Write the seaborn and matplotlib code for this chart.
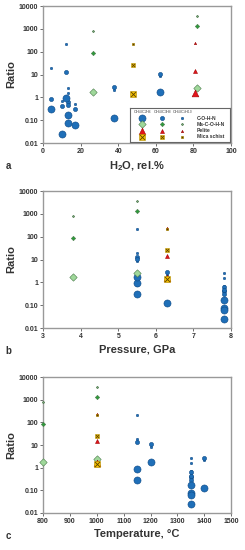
import numpy as np
import pandas as pd
import matplotlib
matplotlib.use("Agg")
import matplotlib.pyplot as plt
import seaborn as sns
from matplotlib.ticker import FixedLocator, FixedFormatter

sns.set_style("white")
plt.rcParams['font.family'] = ['Liberation Sans', 'DejaVu Sans']
plt.rcParams['mathtext.fontset'] = 'custom'
plt.rcParams['mathtext.rm'] = 'Liberation Sans'
plt.rcParams['mathtext.bf'] = 'Liberation Sans:bold'

# experiments: group, H2O rel.%, pressure GPa, temperature C
exp_group = ['C-O-H-N'] * 8 + ['Ms-C-O-H-N'] * 2 + ['Pelite', 'Mica schist']
exp_h2o = [4, 12, 62, 37.5, 10, 13, 13, 17, 26.5, 82, 81, 48]
exp_p = [5.5, 5.5, 5.5, 6.3, 7.8, 7.8, 7.8, 7.8, 3.8, 5.5, 6.3, 6.3]
exp_t = [1150, 1150, 1200, 1400, 1350, 1350, 1350, 1350, 800, 1000, 1000, 1000]
# ratios CH4/C2H6, CH4/C3H8, CH4/C4H10
r_c2h6 = [0.3, 0.9, 1.8, 0.13, 0.025, 0.17, 0.075, 0.06, 1.8, 2.5, 1.6, 1.4]
r_c3h8 = [0.85, 13, 11, 2.8, 0.4, 0.65, 0.45, 0.3, 85, 1300, 15, 25]
r_c4h10 = [19, 220, 8.5, 2.2, 0.7, 2.6, 1.6, 0.5, 800, 3500, 240, 210]

ratio_names = ['CH4/C2H6', 'CH4/C3H8', 'CH4/C4H10']
rows = []
for i in range(len(exp_group)):
    for name, vals in zip(ratio_names, [r_c2h6, r_c3h8, r_c4h10]):
        rows.append(dict(group=exp_group[i], h2o=exp_h2o[i], p=exp_p[i],
                         t=exp_t[i], ratio=name, value=vals[i]))
df = pd.DataFrame(rows)

sizes = {'CH4/C2H6': 26, 'CH4/C3H8': 9, 'CH4/C4H10': 3}
styles = {
    'C-O-H-N': dict(marker='o', colors=['#1f6fb8', '#1f6fb8', '#1f6fb8'], edge='#0d4a86'),
    'Ms-C-O-H-N': dict(marker='D', colors=['#9fd89a', '#2e9a3c', '#7f9f7f'], edge='#4a7a4a'),
    'Pelite': dict(marker='^', colors=['#e3141b', '#e3141b', '#b01818'], edge='#a00000'),
    'Mica schist': dict(marker='s', colors=['#f7c200', '#f7c200', '#f7c200'], edge='#b08a00'),
}
size_scale = {'o': 1.0, 'D': 0.55, '^': 0.9, 's': 0.8}

fig = plt.figure(figsize=(2.45, 5.5), dpi=100)
panels = [
    ('h2o', 'H$_\\mathbf{2}$O, rel.%', (0, 100), [0, 20, 40, 60, 80, 100], 'a', [0.176, 0.74, 0.767, 0.249]),
    ('p', 'Pressure, GPa', (3, 8), [3, 4, 5, 6, 7, 8], 'b', [0.176, 0.4036, 0.767, 0.249]),
    ('t', 'Temperature, \u00b0C', (800, 1500), list(range(800, 1501, 100)), 'c', [0.176, 0.0673, 0.767, 0.247]),
]
yticks = [0.01, 0.1, 1, 10, 100, 1000, 10000]
ylabels = ['0.01', '0.10', '1', '10', '100', '1000', '10000']

for xcol, xlabel, xlim, xticks, letter, pos in panels:
    ax = fig.add_axes(pos)
    for g, st in styles.items():
        for k, name in enumerate(ratio_names):
            sub = df[(df.group == g) & (df.ratio == name)]
            s = sizes[name] * size_scale[st['marker']]
            sns.scatterplot(data=sub, x=xcol, y='value', ax=ax, marker=st['marker'],
                            color=st['colors'][k], edgecolor=st['edge'], linewidth=0.4,
                            s=s, zorder=3 + (2 - k), legend=False, clip_on=False)
            if g == 'Mica schist':
                ax.scatter(sub[xcol], sub['value'], marker='x', color='#5a4000',
                           s=s * 0.6, linewidth=0.6, zorder=4 + (2 - k), clip_on=False)
    ax.set_yscale('log')
    ax.set_ylim(0.01, 10000)
    ax.set_xlim(*xlim)
    ax.xaxis.set_major_locator(FixedLocator(xticks))
    ax.yaxis.set_major_locator(FixedLocator(yticks))
    ax.yaxis.set_major_formatter(FixedFormatter(ylabels))
    ax.yaxis.set_minor_locator(FixedLocator([]))
    ax.tick_params(axis='both', labelsize=5, length=2, width=0.6, direction='out',
                   color='#555555', pad=1.5, bottom=True, left=True)
    for lab in ax.get_xticklabels() + ax.get_yticklabels():
        lab.set_fontweight('bold')
        lab.set_color('#333333')
    for sp in ax.spines.values():
        sp.set_color('#999999')
        sp.set_linewidth(1.0)
    ax.set_xlabel(xlabel, fontsize=8, fontweight='bold', color='#333333', labelpad=3)
    ax.set_ylabel('Ratio', fontsize=8, fontweight='bold', color='#333333', labelpad=2)
    ax.text(-0.2, -0.17, letter, transform=ax.transAxes, fontsize=7,
            fontweight='bold', color='#333333', va='center')

    if letter == 'a':
        leg = ax.inset_axes([0.463, 0.007, 0.532, 0.248])
        leg.set_xlim(0, 1)
        leg.set_ylim(0, 1)
        leg.set_xticks([])
        leg.set_yticks([])
        leg.set_facecolor('white')
        leg.set_zorder(10)
        for sp in leg.spines.values():
            sp.set_color('#666666')
            sp.set_linewidth(0.8)
        col_x = [0.12, 0.32, 0.52]
        heads = ['CH$_4$/C$_2$H$_6$', 'CH$_4$/C$_3$H$_8$', 'CH$_4$/C$_4$H$_{10}$']
        for cx, h in zip(col_x, heads):
            leg.text(cx, 0.88, h, fontsize=2.8, ha='center', va='center', color='#333333')
        row_y = [0.7, 0.52, 0.33, 0.15]
        for ry, (g, st) in zip(row_y, styles.items()):
            for k, name in enumerate(ratio_names):
                s = sizes[name] * size_scale[st['marker']]
                leg.scatter([col_x[k]], [ry], marker=st['marker'], color=st['colors'][k],
                            edgecolor=st['edge'], linewidth=0.4, s=s)
                if g == 'Mica schist':
                    leg.scatter([col_x[k]], [ry], marker='x', color='#5a4000',
                                s=s * 0.6, linewidth=0.6)
            leg.text(0.67, ry, g, fontsize=3.6, fontweight='bold', va='center', color='#333333')

fig.savefig('out.png', dpi=100)
